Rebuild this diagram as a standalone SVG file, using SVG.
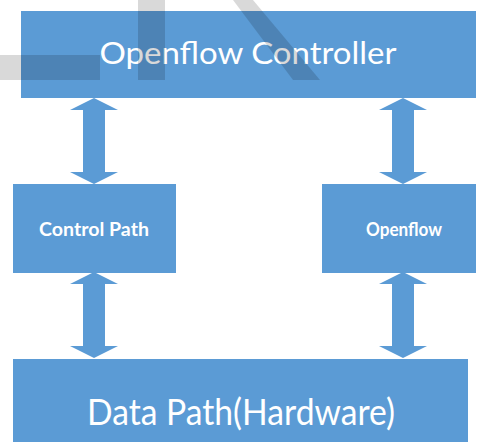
<svg xmlns="http://www.w3.org/2000/svg" width="479" height="442" viewBox="0 0 479 442">
  <style>
    .box { fill: #5B9BD5; }
    .arrow { fill: #5B9BD5; }
    .label { fill: #ffffff; font-family: Lato, "Open Sans", "Liberation Sans", sans-serif; text-anchor: middle; }
    .big { font-size: 30px; }
    .huge { font-size: 37px; }
    .small { font-size: 18px; font-weight: bold; }
    .mark { fill: #000000; fill-opacity: 0.15; }
  </style>
  <defs>
    <!-- double-headed vertical block arrow, centred on x=0, spanning y=0..86 -->
    <path id="dbl" d="M0,0 L24,12 L11,12 L11,74 L24,74 L0,86 L-24,74 L-11,74 L-11,12 L-24,12 Z"/>
  </defs>

  <rect width="479" height="442" fill="#ffffff"/>

  <g id="controller">
    <rect class="box" x="21" y="11" width="455" height="87"/>
    <text class="label big" x="248" y="64" textLength="297" lengthAdjust="spacingAndGlyphs">Openflow Controller</text>
  </g>

  <g id="control-path">
    <rect class="box" x="13" y="184" width="163" height="89"/>
    <text class="label small" x="94" y="236" textLength="110" lengthAdjust="spacingAndGlyphs">Control Path</text>
  </g>

  <g id="openflow">
    <rect class="box" x="322" y="184" width="154" height="89"/>
    <text class="label small" x="404" y="236" textLength="76" lengthAdjust="spacingAndGlyphs">Openflow</text>
  </g>

  <g id="data-path">
    <rect class="box" x="13" y="359" width="455" height="90"/>
    <text class="label huge" x="241" y="425" textLength="308" lengthAdjust="spacingAndGlyphs">Data Path(Hardware)</text>
  </g>

  <g id="connectors">
    <use href="#dbl" class="arrow" transform="translate(94,98)"/>
    <use href="#dbl" class="arrow" transform="translate(403,98)"/>
    <use href="#dbl" class="arrow" transform="translate(94,272)"/>
    <use href="#dbl" class="arrow" transform="translate(403,272)"/>
  </g>

  <!-- translucent grey strokes across the top -->
  <g id="overlay">
    <rect class="mark" x="0" y="55" width="100" height="25"/>
    <rect class="mark" x="138" y="0" width="27" height="80"/>
    <polygon class="mark" points="233,0 253,0 320,80 293,80"/>
  </g>
</svg>
